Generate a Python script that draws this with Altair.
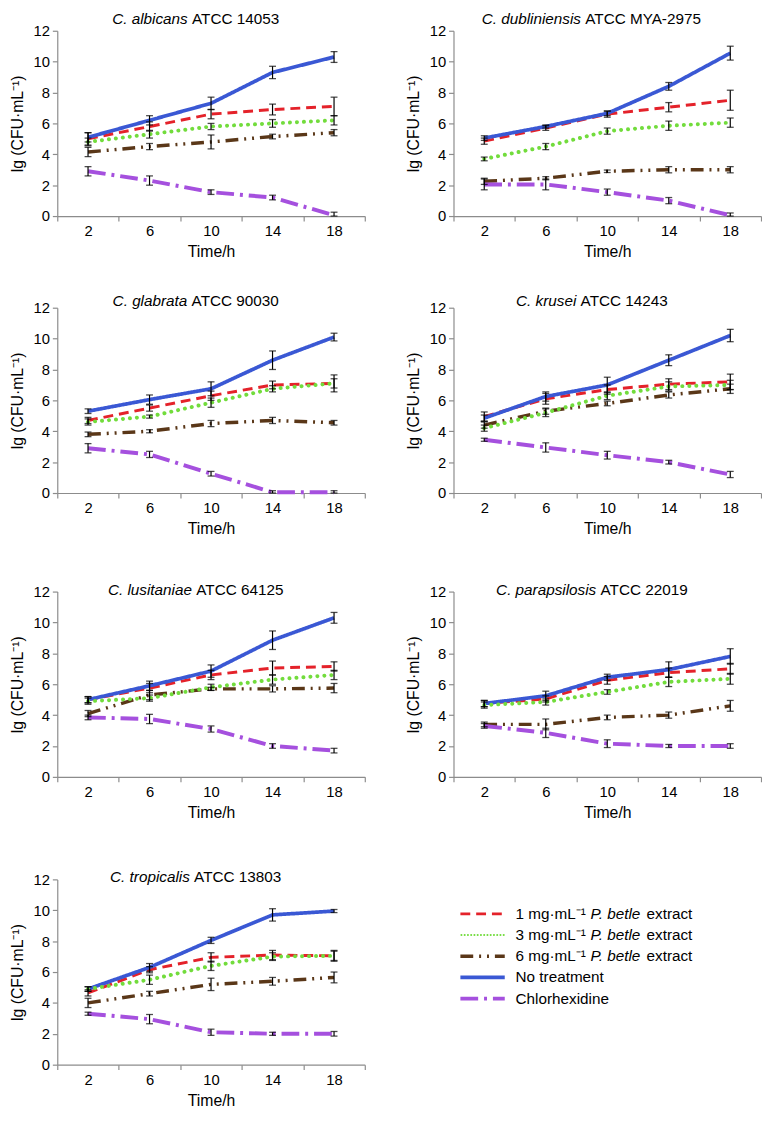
import altair as alt
import pandas as pd

# ---------------- data ----------------
times = [2, 6, 10, 14, 18]
series_keys = ["1mg", "3mg", "6mg", "none", "chx"]

species = ["C. albicans", "C. dubliniensis", "C. glabrata", "C. krusei",
           "C. lusitaniae", "C. parapsilosis", "C. tropicalis"]
strains = ["ATCC 14053", "ATCC MYA-2975", "ATCC 90030", "ATCC 14243",
           "ATCC 64125", "ATCC 22019", "ATCC 13803"]

albicans_mean = {"1mg": [5.0, 5.8, 6.6, 6.9, 7.1], "3mg": [4.8, 5.3, 5.8, 6.0, 6.2],
                 "6mg": [4.15, 4.5, 4.8, 5.15, 5.4], "none": [5.1, 6.2, 7.3, 9.3, 10.3],
                 "chx": [2.9, 2.3, 1.55, 1.2, 0.05]}
albicans_err = {"1mg": [0.4, 0.3, 0.3, 0.35, 0.6], "3mg": [0.25, 0.25, 0.2, 0.25, 0.3],
                "6mg": [0.3, 0.2, 0.45, 0.15, 0.2], "none": [0.3, 0.3, 0.4, 0.4, 0.35],
                "chx": [0.3, 0.3, 0.15, 0.15, 0.2]}

dubliniensis_mean = {"1mg": [4.85, 5.7, 6.6, 7.05, 7.5], "3mg": [3.7, 4.5, 5.5, 5.85, 6.05],
                     "6mg": [2.25, 2.45, 2.9, 3.0, 3.0], "none": [5.05, 5.8, 6.65, 8.4, 10.55],
                     "chx": [2.05, 2.05, 1.55, 1.0, 0.05]}
dubliniensis_err = {"1mg": [0.2, 0.15, 0.2, 0.3, 0.65], "3mg": [0.12, 0.2, 0.2, 0.3, 0.3],
                    "6mg": [0.2, 0.1, 0.08, 0.2, 0.2], "none": [0.15, 0.1, 0.15, 0.25, 0.45],
                    "chx": [0.35, 0.35, 0.2, 0.2, 0.15]}

glabrata_mean = {"1mg": [4.7, 5.5, 6.3, 7.0, 7.1], "3mg": [4.6, 4.95, 5.85, 6.75, 7.1],
                 "6mg": [3.8, 4.0, 4.5, 4.7, 4.55], "none": [5.3, 6.05, 6.75, 8.6, 10.1],
                 "chx": [2.9, 2.5, 1.25, 0.05, 0.05]}
glabrata_err = {"1mg": [0.2, 0.2, 0.3, 0.25, 0.55], "3mg": [0.2, 0.1, 0.3, 0.2, 0.3],
                "6mg": [0.15, 0.1, 0.2, 0.2, 0.15], "none": [0.15, 0.3, 0.45, 0.6, 0.25],
                "chx": [0.3, 0.2, 0.15, 0.1, 0.1]}

krusei_mean = {"1mg": [4.95, 6.1, 6.7, 7.05, 7.2], "3mg": [4.2, 5.2, 6.3, 6.9, 7.0],
               "6mg": [4.4, 5.3, 5.8, 6.35, 6.75], "none": [4.85, 6.25, 7.0, 8.6, 10.2],
               "chx": [3.45, 2.95, 2.45, 2.0, 1.2]}
krusei_err = {"1mg": [0.3, 0.35, 0.3, 0.35, 0.5], "3mg": [0.2, 0.25, 0.25, 0.3, 0.3],
              "6mg": [0.2, 0.2, 0.15, 0.2, 0.3], "none": [0.2, 0.3, 0.5, 0.35, 0.4],
              "chx": [0.1, 0.3, 0.25, 0.12, 0.2]}

lusitaniae_mean = {"1mg": [5.0, 5.75, 6.6, 7.05, 7.15], "3mg": [4.9, 5.1, 5.8, 6.3, 6.6],
                   "6mg": [4.1, 5.3, 5.7, 5.7, 5.75], "none": [5.0, 5.9, 6.85, 8.85, 10.3],
                   "chx": [3.85, 3.75, 3.1, 2.0, 1.7]}
lusitaniae_err = {"1mg": [0.2, 0.3, 0.3, 0.45, 0.3], "3mg": [0.2, 0.2, 0.2, 0.3, 0.3],
                  "6mg": [0.2, 0.3, 0.1, 0.2, 0.3], "none": [0.2, 0.3, 0.4, 0.6, 0.35],
                  "chx": [0.15, 0.3, 0.2, 0.15, 0.15]}

parapsilosis_mean = {"1mg": [4.75, 5.05, 6.25, 6.75, 7.0], "3mg": [4.65, 4.85, 5.5, 6.15, 6.35],
                     "6mg": [3.4, 3.4, 3.85, 4.0, 4.6], "none": [4.75, 5.25, 6.45, 6.95, 7.8],
                     "chx": [3.3, 2.85, 2.15, 2.0, 2.0]}
parapsilosis_err = {"1mg": [0.2, 0.2, 0.25, 0.3, 0.35], "3mg": [0.2, 0.2, 0.15, 0.3, 0.35],
                    "6mg": [0.15, 0.35, 0.15, 0.2, 0.35], "none": [0.2, 0.3, 0.2, 0.5, 0.5],
                    "chx": [0.15, 0.3, 0.25, 0.1, 0.15]}

tropicalis_mean = {"1mg": [4.65, 6.15, 6.95, 7.1, 7.05], "3mg": [4.9, 5.5, 6.4, 7.0, 7.05],
                   "6mg": [4.0, 4.6, 5.2, 5.4, 5.65], "none": [4.9, 6.3, 8.05, 9.7, 9.95],
                   "chx": [3.3, 2.95, 2.1, 2.0, 2.0]}
tropicalis_err = {"1mg": [0.2, 0.2, 0.3, 0.3, 0.35], "3mg": [0.15, 0.3, 0.3, 0.25, 0.3],
                  "6mg": [0.3, 0.15, 0.4, 0.25, 0.35], "none": [0.15, 0.25, 0.2, 0.4, 0.1],
                  "chx": [0.1, 0.3, 0.2, 0.1, 0.15]}

panel_means = [albicans_mean, dubliniensis_mean, glabrata_mean, krusei_mean,
               lusitaniae_mean, parapsilosis_mean, tropicalis_mean]
panel_errs = [albicans_err, dubliniensis_err, glabrata_err, krusei_err,
              lusitaniae_err, parapsilosis_err, tropicalis_err]

legend_prefix = ["1 mg·mL⁻¹", "3 mg·mL⁻¹", "6 mg·mL⁻¹", "No treatment", "Chlorhexidine"]
legend_italic = ["P. betle", "P. betle", "P. betle", "", ""]
legend_suffix = ["extract", "extract", "extract", "", ""]

# ---------------- styling ----------------
FONT = "Liberation Sans, Arial, sans-serif"
colors = ["#e4222a", "#72dc3c", "#5a3718", "#3a58d4", "#a550de"]
dashes = [[10, 6], [0.1, 7], [13, 6, 2, 6, 2, 6], [1, 0], [18, 6, 3, 6]]
widths = [3, 4, 3, 2.1, 3]
leg_dashes = [[10, 5], [0.1, 3.2], [10, 5, 2, 4, 2, 5], [1, 0], [10, 5, 2, 5]]
leg_widths = [2.6, 2, 2.6, 2, 2.6]
PW, PH = 312, 188

# Arial advance widths (per 1000 em) for laying out mixed-style titles
AW = {" ": 278, ".": 278, "-": 333, "·": 278, "⁻": 400, "¹": 333}
AW.update({d: 556 for d in "0123456789"})
AW.update(dict(zip("ABCDEFGHIJKLMNOPQRSTUVWXYZ",
                   [667, 667, 722, 722, 667, 611, 778, 722, 278, 500, 667, 556, 833,
                    722, 778, 667, 778, 722, 667, 611, 722, 667, 944, 667, 667, 611])))
AW.update(dict(zip("abcdefghijklmnopqrstuvwxyz",
                   [556, 556, 500, 556, 556, 278, 556, 556, 222, 222, 500, 222, 833,
                    556, 556, 556, 556, 333, 500, 278, 556, 500, 722, 500, 500, 500])))


def tw(s, size):
    return sum(AW.get(ch, 556) for ch in s) * size / 1000.0


rows = []
for p in range(7):
    for k in series_keys:
        for i, t in enumerate(times):
            m = panel_means[p][k][i]
            e = panel_errs[p][k][i]
            rows.append({"panel": p, "series": k, "t": t, "mean": m,
                         "lo": max(m - e, 0), "hi": m + e})
df = pd.DataFrame(rows)

color_scale = alt.Scale(domain=series_keys, range=colors)
dash_scale = alt.Scale(domain=series_keys, range=dashes)
width_scale = alt.Scale(domain=series_keys, range=widths)

x_scale = alt.Scale(type="band", domain=times, paddingInner=0, paddingOuter=0)
y_scale = alt.Scale(domain=[0, 12], nice=False)
x_axis = alt.Axis(tickBand="extent", labelAngle=0, title="Time/h", grid=False,
                  titlePadding=5, labelPadding=3)
y_axis = alt.Axis(values=list(range(0, 13, 2)), tickCount=7, title="lg (CFU·mL⁻¹)", grid=False,
                  titlePadding=8, labelPadding=3, labelOverlap=False)

TS = 15.5  # title font size


def make_panel(p, title_y):
    d = df[df.panel == p]
    base = alt.Chart(d)
    X = alt.X("t:O", bandPosition=0.5, scale=x_scale, axis=x_axis)
    Y = alt.Y("mean:Q", scale=y_scale, axis=y_axis)
    YLO = alt.Y("lo:Q", scale=y_scale, axis=y_axis)
    YHI = alt.Y("hi:Q", scale=y_scale, axis=y_axis)
    lines = base.transform_filter(alt.datum.series != "3mg").mark_line(strokeCap="butt").encode(
        x=X, y=Y,
        color=alt.Color("series:N", scale=color_scale, legend=None),
        strokeDash=alt.StrokeDash("series:N", scale=dash_scale, legend=None),
        strokeWidth=alt.StrokeWidth("series:N", scale=width_scale, legend=None),
        detail="series:N",
    )
    dots = base.transform_filter(alt.datum.series == "3mg").mark_line(
        strokeCap="round", strokeDash=dashes[1], strokeWidth=widths[1], color=colors[1]
    ).encode(x=X, y=Y)
    rule = base.mark_rule(color="black", strokeWidth=1.2).encode(
        x=X, y=YLO, y2="hi:Q")
    cap_lo = base.mark_tick(color="black", orient="horizontal", size=7, thickness=1.3).encode(
        x=X, y=YLO)
    cap_hi = base.mark_tick(color="black", orient="horizontal", size=7, thickness=1.3).encode(
        x=X, y=YHI)
    # title with italic species name
    sp, st = species[p], strains[p]
    w_i = tw(sp, TS)
    w_s = tw(" ", TS)
    w_n = tw(st, TS)
    x0 = PW / 2 - 15 - (w_i + w_s + w_n) / 2
    tdf = pd.DataFrame({"sp": [sp], "st": [st]})
    t1 = alt.Chart(tdf).mark_text(font=FONT, fontSize=TS, fontStyle="italic", align="left",
                                  baseline="alphabetic", color="black").encode(
        text="sp:N", x=alt.value(x0), y=alt.value(title_y))
    t2 = alt.Chart(tdf).mark_text(font=FONT, fontSize=TS, align="left",
                                  baseline="alphabetic", color="black").encode(
        text="st:N", x=alt.value(x0 + w_i + w_s), y=alt.value(title_y))
    return alt.layer(lines, dots, rule, cap_lo, cap_hi, t1, t2).properties(width=PW, height=PH)


# ---------------- legend panel ----------------
LS = 15.5
ldf = pd.DataFrame({"series": series_keys, "idx": list(range(5)), "pre": legend_prefix,
                    "ital": legend_italic, "post": legend_suffix})
LY = alt.Y("idx:Q", scale=alt.Scale(domain=[0, 4], range=[35, 121]), axis=None)
lx0, lx1, ltx = 56, 101, 112
leg_lines = alt.Chart(ldf).transform_filter(alt.datum.series != "3mg").mark_rule(strokeCap="butt").encode(
    x=alt.value(lx0), x2=alt.value(lx1), y=LY,
    color=alt.Color("series:N", scale=color_scale, legend=None),
    strokeDash=alt.StrokeDash("series:N", scale=alt.Scale(domain=series_keys, range=leg_dashes),
                              legend=None),
    strokeWidth=alt.StrokeWidth("series:N", scale=alt.Scale(domain=series_keys, range=leg_widths),
                                legend=None),
)
leg_dots = alt.Chart(ldf).transform_filter(alt.datum.series == "3mg").mark_rule(
    strokeCap="round", strokeDash=leg_dashes[1], strokeWidth=leg_widths[1], color=colors[1]).encode(
    x=alt.value(lx0 + 1), x2=alt.value(lx1 - 1), y=LY)
x_ital = ltx + tw("1 mg·mL⁻¹ ", LS)
x_post = x_ital + tw("P. betle ", LS)
leg_t1 = alt.Chart(ldf).mark_text(font=FONT, fontSize=LS, align="left", baseline="middle",
                                  color="black").encode(text="pre:N", x=alt.value(ltx), y=LY)
leg_t2 = alt.Chart(ldf).mark_text(font=FONT, fontSize=LS, fontStyle="italic", align="left",
                                  baseline="middle", color="black").encode(
    text="ital:N", x=alt.value(x_ital), y=LY)
leg_t3 = alt.Chart(ldf).mark_text(font=FONT, fontSize=LS, align="left", baseline="middle",
                                  color="black").encode(text="post:N", x=alt.value(x_post), y=LY)
legend_panel = alt.layer(leg_lines, leg_dots, leg_t1, leg_t2, leg_t3).properties(width=PW, height=PH)

title_offsets = [-7, -2, 3, 3]
HS = 40
r1 = alt.hconcat(make_panel(0, title_offsets[0]), make_panel(1, title_offsets[0]), spacing=HS)
r2 = alt.hconcat(make_panel(2, title_offsets[1]), make_panel(3, title_offsets[1]), spacing=HS)
r3 = alt.hconcat(make_panel(4, title_offsets[2]), make_panel(5, title_offsets[2]), spacing=HS)
r4 = alt.hconcat(make_panel(6, title_offsets[3]), legend_panel, spacing=HS)

top = alt.vconcat(r1, r2, spacing=35)
bottom = alt.vconcat(r3, r4, spacing=51)
chart = alt.vconcat(top, bottom, spacing=47).properties(
    padding={"left": 1, "top": -4, "right": 0, "bottom": 2}
).configure_view(stroke=None).configure_axis(
    domainColor="#8c8c8c", tickColor="#8c8c8c", tickSize=5, domainWidth=1.2, tickWidth=1.2,
    labelColor="black", titleColor="black", labelFont=FONT, titleFont=FONT,
    labelFontSize=15, titleFontSize=16, titleFontWeight="normal"
)

chart.save("out.html", embed_options={"renderer": "svg", "actions": False})
